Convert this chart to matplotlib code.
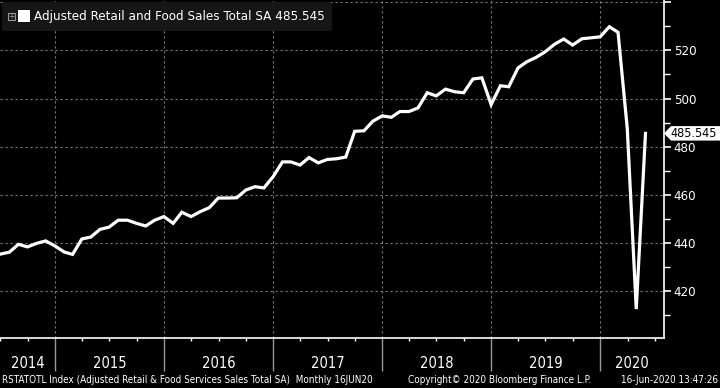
import matplotlib
matplotlib.use("Agg")
import matplotlib.pyplot as plt
import matplotlib.dates as mdates
import matplotlib.transforms as mtrans
from matplotlib.patches import Rectangle, FancyBboxPatch, Polygon
import numpy as np
import pandas as pd

plt.rcParams['font.family'] = ['DejaVu Sans']
plt.rcParams['font.stretch'] = 'condensed'

# monthly values, Jun 2014 .. May 2020 (USD bn)
values_2014 = [435.4, 436.2, 439.5, 438.4, 439.9, 440.9, 438.8]
values_2015 = [436.3, 435.3, 441.7, 442.5, 445.7, 446.6, 449.5, 449.5, 448.2, 447.1, 449.5, 451.0]
values_2016 = [448.2, 452.8, 451.0, 453.0, 454.7, 458.7, 458.7, 458.8, 462.0, 463.4, 462.9, 467.6]
values_2017 = [473.7, 473.7, 472.4, 475.5, 473.3, 474.7, 475.0, 475.7, 486.4, 486.6, 490.6, 492.8]
values_2018 = [492.2, 494.6, 494.6, 496.1, 502.4, 501.1, 503.9, 502.8, 502.4, 508.1, 508.6, 497.5]
values_2019 = [505.3, 504.9, 512.7, 515.3, 517.1, 519.4, 522.5, 524.7, 522.2, 524.8, 525.2, 525.6]
values_2020 = [529.8, 527.5, 487.5, 412.6, 485.545]

values = values_2014 + values_2015 + values_2016 + values_2017 + values_2018 + values_2019 + values_2020
dates = pd.date_range('2014-06-30', periods=len(values), freq='ME')
last_value = values[-1]

years = [2014, 2015, 2016, 2017, 2018, 2019, 2020]
y_ticks = [420, 440, 460, 480, 500, 520, 540]
legend_text = 'Adjusted Retail and Food Sales Total SA %.3f' % last_value
footer_left = 'RSTATOTL Index (Adjusted Retail & Food Services Sales Total SA)  Monthly 16JUN20'
footer_mid = 'Copyright\u00a9 2020 Bloomberg Finance L.P.'
footer_right = '16-Jun-2020 13:47:26'

W, H = 720, 388
fig = plt.figure(figsize=(W / 100, H / 100), dpi=100, facecolor='black')
ax = fig.add_axes([0, (H - 338) / H, 664 / W, 338 / H], facecolor='black')

ax.plot(dates, values, color='white', lw=2.3, solid_joinstyle='miter')

x_min = pd.Timestamp('2014-06-30')
x_max = pd.Timestamp('2020-08-01')
ax.set_xlim(x_min, x_max)
ax.set_ylim(400.6, 540.9)

# spines
for s in ['top', 'left']:
    ax.spines[s].set_visible(False)
for s in ['right', 'bottom']:
    ax.spines[s].set_color('white')
    ax.spines[s].set_linewidth(1.2)

# y axis on the right
ax.yaxis.tick_right()
ax.set_yticks(y_ticks)
ax.set_yticklabels([str(t) if t < 540 else '' for t in y_ticks])
ax.set_yticks(np.arange(410, 541, 10), minor=True)
ax.tick_params(axis='y', which='major', direction='out', length=5, width=1.2,
               colors='white', labelsize=9.5, pad=2)
ax.tick_params(axis='y', which='minor', direction='out', length=4, width=1, colors='white')

# x axis: year separators and quarterly ticks
ax.xaxis.set_major_locator(mdates.YearLocator())
ax.xaxis.set_minor_locator(mdates.MonthLocator(bymonth=[1, 4, 7, 10]))
ax.xaxis.set_major_formatter(plt.NullFormatter())
ax.tick_params(axis='x', which='major', direction='out', length=24, width=1, color='#999999')
ax.tick_params(axis='x', which='minor', direction='out', length=2.5, width=1, color='white')

ax.grid(True, which='major', color='#7a7a7a', linestyle=(0, (2, 2.5)), lw=0.8)

# year labels centred between separators
blend = mtrans.blended_transform_factory(ax.transData, fig.transFigure)
for y in years:
    start = max(pd.Timestamp(f'{y}-01-01'), x_min)
    end = min(pd.Timestamp(f'{y + 1}-01-01'), x_max)
    mid = start + (end - start) / 2
    ax.text(mdates.date2num(mid), 1 - 364 / H, str(y), transform=blend,
            color='white', fontsize=10.5, ha='center', va='center')

# footer
fig.text(2 / W, 1 - 380 / H, footer_left, color='white', fontsize=7.1, ha='left', va='center')
fig.text(408 / W, 1 - 380 / H, footer_mid, color='white', fontsize=7.1, ha='left', va='center')
fig.text(718 / W, 1 - 380 / H, footer_right, color='white', fontsize=7.1, ha='right', va='center')

# legend box
def px(x, y):
    return x / W, 1 - y / H

fig.patches.append(FancyBboxPatch(px(2, 31), 330 / W, 29 / H, boxstyle='round,pad=0,rounding_size=0.004',
                                  transform=fig.transFigure, facecolor='#161616', edgecolor='none'))
fig.patches.append(Rectangle(px(8, 20), 7 / W, 7 / H, transform=fig.transFigure,
                             facecolor='none', edgecolor='#9a9a9a', lw=0.8))
fig.text(11.5 / W, 1 - 16.5 / H, '+', color='#9a9a9a', fontsize=6, ha='center', va='center')
fig.patches.append(Rectangle(px(18, 22), 12 / W, 12 / H, transform=fig.transFigure,
                             facecolor='white', edgecolor='none'))
fig.text(34 / W, 1 - 16.5 / H, legend_text, color='white', fontsize=9.6, ha='left', va='center')

# last value tag
yt = ax.get_yaxis_transform()
half = 3.0
tag = Polygon([(1.0, last_value), (1 + 7 / 664, last_value + half), (1 + 56 / 664, last_value + half),
               (1 + 56 / 664, last_value - half), (1 + 7 / 664, last_value - half)],
              closed=True, transform=yt, facecolor='white', edgecolor='none', clip_on=False, zorder=5)
ax.add_patch(tag)
ax.text(1 + 6 / 664, last_value, '%.3f' % last_value, transform=yt, color='black',
        fontsize=9, ha='left', va='center', clip_on=False, zorder=6)

fig.savefig('out.png', dpi=100, facecolor='black')
